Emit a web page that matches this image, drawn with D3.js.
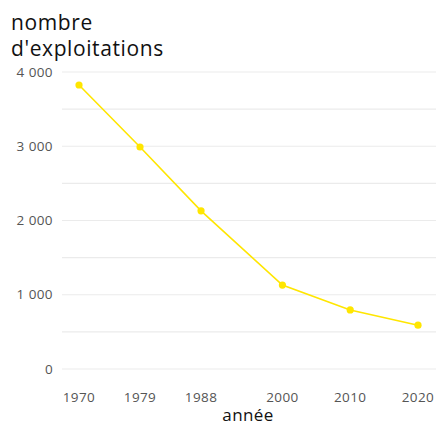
<!DOCTYPE html>
<html>
<head>
<meta charset="utf-8">
<script src="https://cdn.jsdelivr.net/npm/d3@7"></script>
<style>
  body { margin: 0; background: #fff; }
  svg text { font-family: "Open Sans", "Noto Sans", sans-serif; }
</style>
</head>
<body>
<div id="chart"></div>
<script>
// data
let years = [1970, 1979, 1988, 2000, 2010, 2020];
let counts = [3825, 2990, 2130, 1130, 795, 590];
let yTicks = [0, 1000, 2000, 3000, 4000];
let gridTicks = [0, 500, 1000, 1500, 2000, 2500, 3000, 3500, 4000];

let width = 436,
    height = 425,
    margin = {top: 72, right: 18, bottom: 56, left: 62};

let svg = d3.select("#chart")
    .append("svg")
    .attr("width", width)
    .attr("height", height);

let x = d3.scaleLinear()
    .domain([1970, 2020])
    .range([79, 418]);

let y = d3.scaleLinear()
    .domain([0, 4000])
    .range([height - margin.bottom, margin.top]);

let fmt = d => d3.format(",")(d).replace(",", "\u00a0");

// gridlines
svg.append("g")
    .selectAll("line")
    .data(gridTicks)
    .join("line")
    .attr("x1", margin.left)
    .attr("x2", width)
    .attr("y1", d => y(d))
    .attr("y2", d => y(d))
    .attr("stroke", "#ebebeb")
    .attr("stroke-width", 1.2);

// y axis labels
svg.append("g")
    .selectAll("text")
    .data(yTicks)
    .join("text")
    .attr("x", 53)
    .attr("y", d => y(d))
    .attr("dy", "0.35em")
    .attr("text-anchor", "end")
    .attr("fill", "#555")
    .attr("font-size", 13.5)
    .attr("letter-spacing", 0.4)
    .text(d => d === 0 ? "0" : fmt(d));

// x axis labels
svg.append("g")
    .selectAll("text")
    .data(years)
    .join("text")
    .attr("x", d => x(d))
    .attr("y", 397)
    .attr("dy", "0.35em")
    .attr("text-anchor", "middle")
    .attr("fill", "#555")
    .attr("font-size", 13.5)
    .attr("letter-spacing", 0.4)
    .text(d => d);

// titles
svg.append("text")
    .attr("x", 11)
    .attr("y", 30)
    .attr("font-size", 21)
    .attr("letter-spacing", 0.6)
    .attr("fill", "#111")
    .text("nombre");
svg.append("text")
    .attr("x", 11)
    .attr("y", 56)
    .attr("font-size", 21)
    .attr("letter-spacing", 0.6)
    .attr("fill", "#111")
    .text("d'exploitations");
svg.append("text")
    .attr("x", 248)
    .attr("y", 421)
    .attr("text-anchor", "middle")
    .attr("font-size", 17)
    .attr("letter-spacing", 0.4)
    .attr("fill", "#111")
    .text("année");

// line + points
let pts = years.map((yr, i) => ({year: yr, value: counts[i]}));

let line = d3.line()
    .x(d => x(d.year))
    .y(d => y(d.value));

svg.append("path")
    .datum(pts)
    .attr("d", line)
    .attr("fill", "none")
    .attr("stroke", "#ffe600")
    .attr("stroke-width", 1.6);

svg.append("g")
    .selectAll("circle")
    .data(pts)
    .join("circle")
    .attr("cx", d => x(d.year))
    .attr("cy", d => y(d.value))
    .attr("r", 3.6)
    .attr("fill", "#ffe600");
</script>
</body>
</html>
